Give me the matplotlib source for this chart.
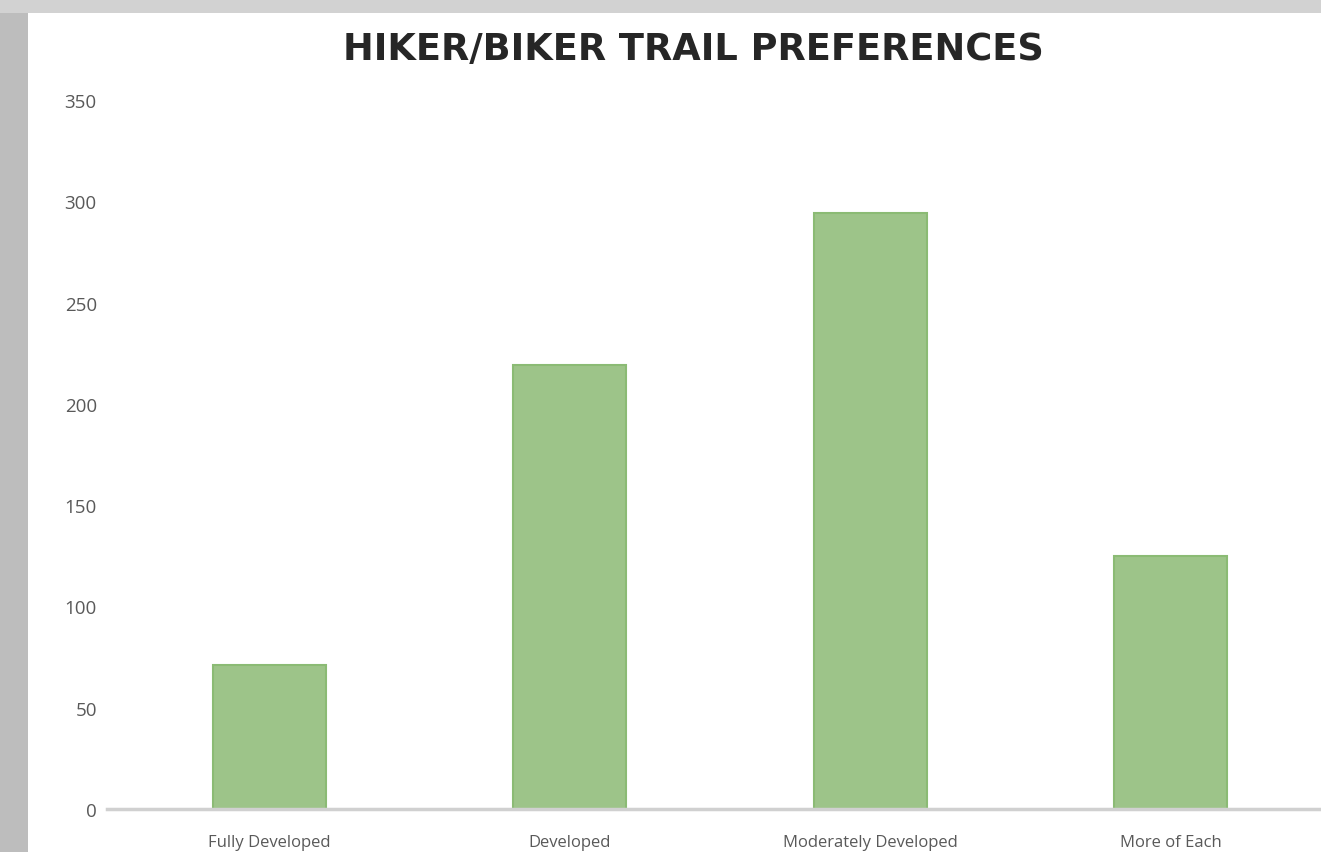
import matplotlib.pyplot as plt
from matplotlib.patches import Rectangle

categories = ['Fully Developed', 'Developed', 'Moderately Developed', 'More of Each']
counts = [71, 219, 294, 125]
yticks = [0, 50, 100, 150, 200, 250, 300, 350]

W, H = 1321, 853
fig = plt.figure(figsize=(W / 100, H / 100), dpi=100)
fig.patch.set_facecolor('#bdbdbd')

# white chart panel inside the grey screenshot frame
fig.patches.append(Rectangle((28 / W, 0), 1 - 28 / W, 1 - 14 / H,
                             transform=fig.transFigure, facecolor='white',
                             edgecolor='none', zorder=-2))
fig.patches.append(Rectangle((0, 1 - 14 / H), 1, 14 / H,
                             transform=fig.transFigure, facecolor='#d2d2d2',
                             edgecolor='none', zorder=-2))

ax = fig.add_axes([119 / W, 1 - 810 / H, (1321 - 119) / W, (810 - 101) / H])
ax.set_facecolor('none')

x = range(len(categories))
ax.bar(x, counts, width=0.377, color='#9dc489', edgecolor='#8bbb74', linewidth=1.5, zorder=2)

ax.set_xlim(-0.5, 3.5)
ax.set_ylim(0, 350)
ax.set_yticks(yticks)
ax.set_xticks(list(x))
ax.set_xticklabels(categories)

for s in ['top', 'right', 'left']:
    ax.spines[s].set_visible(False)
ax.spines['bottom'].set_color('#d0d0d0')
ax.spines['bottom'].set_linewidth(2.5)
ax.spines['bottom'].set_bounds(-0.54, 3.5)
ax.tick_params(axis='both', length=0, colors='#595959')
ax.tick_params(axis='y', pad=16, labelsize=13.5)
ax.tick_params(axis='x', pad=18, labelsize=12)
for lbl in ax.get_xticklabels() + ax.get_yticklabels():
    lbl.set_fontfamily('Open Sans')

fig.text(693 / W, 1 - 50 / H, 'HIKER/BIKER TRAIL PREFERENCES', ha='center', va='center',
         fontsize=26.5, fontweight='bold', color='#262626', family='DejaVu Sans')

fig.savefig('out.png', dpi=100)
